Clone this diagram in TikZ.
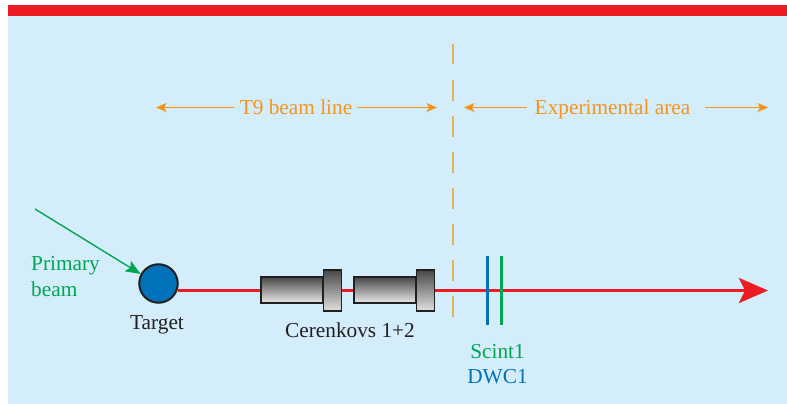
\documentclass[tikz,border=0pt]{standalone}
\usepackage{fontspec}
\setmainfont{Liberation Serif}
\usetikzlibrary{arrows.meta}
\definecolor{panelc}{HTML}{D4EDFA}
\definecolor{redc}{HTML}{ED1C24}
\definecolor{orangec}{HTML}{F7941D}
\definecolor{greenc}{HTML}{00A651}
\definecolor{bluec}{HTML}{0072BC}
\definecolor{darkc}{HTML}{231F20}
\definecolor{tanc}{HTML}{E9AE62}
\tikzset{
  lbl/.style={font=\fontsize{21.3}{24}\selectfont, anchor=base, inner sep=0pt},
  span/.style={draw=orangec, line width=1.5pt, -{Stealth[length=10.5pt,width=9pt,inset=2.5pt]}},
  divider/.style={draw=tanc, line width=1.2pt, dash pattern=on 20.5pt off 15.5pt},
  body/.style={draw=darkc, line width=1.3pt, top color=black!72, bottom color=black!8, inner sep=0pt, minimum width=62pt, minimum height=26pt},
  flange/.style={draw=darkc, line width=1.3pt, top color=black!72, bottom color=black!12, inner sep=0pt, minimum width=18.5pt, minimum height=41pt},
  det/.style={line width=3pt}
}
\begin{document}
\begin{tikzpicture}[x=1pt,y=-1pt]
\useasboundingbox (0,0) rectangle (787,404);
\fill[white] (0,0) rectangle (787,404);
\fill[panelc] (8,5) rectangle (787,404);
\fill[redc] (8,5) rectangle (787,16);

% divider
\coordinate (divtop) at (453,44);
\coordinate (divbot) at (453,318);
\draw[divider] (divtop) -- (divbot);

% top labels
\node[lbl,text=orangec] (t9) at (296,114) {T9 beam line};
\node[lbl,text=orangec] (exp) at (612.5,114) {Experimental area};
\coordinate (t9l) at (156,107.5);
\coordinate (t9r) at (437,107.5);
\coordinate (expl) at (464,107.5);
\coordinate (expr) at (768,107.5);
\coordinate (t9la) at (234,107.5);
\coordinate (t9ra) at (357,107.5);
\coordinate (expla) at (527,107.5);
\coordinate (expra) at (705,107.5);
\draw[span] (t9la) -- (t9l);
\draw[span] (t9ra) -- (t9r);
\draw[span] (expla) -- (expl);
\draw[span] (expra) -- (expr);

% beam
\node[circle,draw=darkc,fill=bluec,line width=2pt,minimum size=38.5pt,inner sep=0pt] (target) at (158.5,283.5) {};
\coordinate (beamend) at (768,290.5);
\path (target.center) ++(19,7) coordinate (beamstart);
\draw[redc,line width=3pt,-{Stealth[length=29pt,width=25pt,inset=6pt]}] (beamstart) -- (beamend);

% Cerenkovs
\node[body] (c1b) at (292,290) {};
\node[flange] (c1f) at (332.5,290.5) {};
\node[body] (c2b) at (385,290) {};
\node[flange] (c2f) at (425.5,290.5) {};

% detectors
\coordinate (b1) at (487,256);
\coordinate (b2) at (487,325);
\coordinate (g1) at (501.5,256);
\coordinate (g2) at (501.5,325);
\draw[det,bluec] (b1) -- (b2);
\draw[det,greenc] (g1) -- (g2);

% primary beam
\coordinate (pstart) at (35,209);
\draw[greenc,line width=1.4pt,-{Stealth[length=15pt,width=12pt,inset=3pt]}] (pstart) -- (target.152);

% labels
\node[lbl,text=greenc,anchor=base west] (prim) at (31,270) {Primary};
\node[lbl,text=greenc,anchor=base west] (beam) at (31,296) {beam};
\node[lbl,text=darkc] (tl) at (157,329) {Target};
\node[lbl,text=darkc] (cl) at (350,337) {Cerenkovs 1+2};
\node[lbl,text=greenc] (sl) at (497.5,358) {Scint1};
\node[lbl,text=bluec] (dl) at (497.5,383) {DWC1};
\end{tikzpicture}
\end{document}
